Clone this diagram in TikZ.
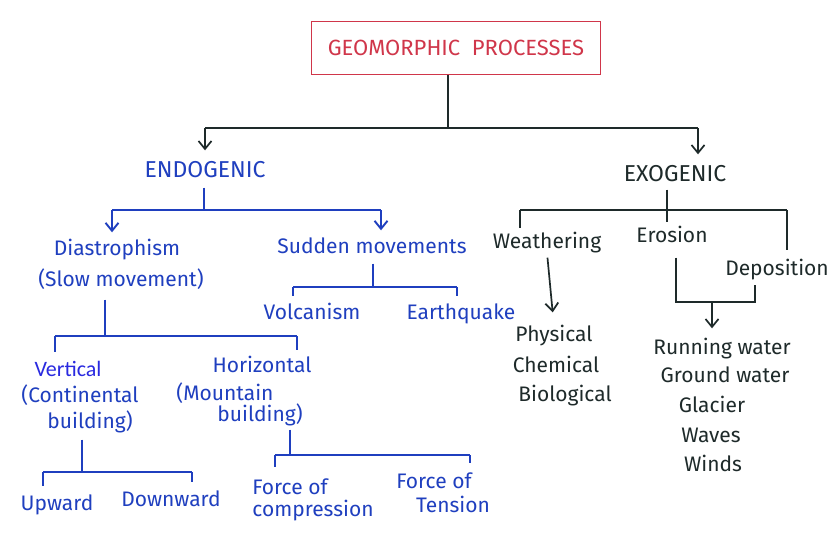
\documentclass[tikz,border=0pt]{standalone}
\usepackage{fontspec}
\setmainfont{Fira Sans}
\newfontfamily\typedfont{Carlito}
\usetikzlibrary{arrows.meta}
\definecolor{inkblue}{HTML}{1F3FBF}
\definecolor{inkdark}{HTML}{1E2A2A}
\definecolor{inkred}{HTML}{D0364A}
\definecolor{vblue}{HTML}{2A2AE0}
\begin{document}
\begin{tikzpicture}[x=1pt,y=-1pt,
 lbl/.style={font=\fontsize{21}{23}\selectfont, inner sep=0pt, align=center, text height=15pt, text depth=4pt},
 capsl/.style={lbl,font=\fontsize{23}{25}\selectfont},
 bl/.style={lbl,text=inkblue},
 dk/.style={lbl,text=inkdark},
 bline/.style={draw=inkblue,line width=1.9pt},
 dline/.style={draw=inkdark,line width=1.7pt},
 tip/.style={-{Straight Barb[length=8pt,width=13pt]}},
]
\useasboundingbox[fill=white] (0,0) rectangle (837,552);

% title
\node[draw=inkred, line width=1.6pt, minimum width=289pt, minimum height=53pt, text=inkred,
      font=\fontsize{22}{24}\selectfont, inner sep=0pt] (title) at (456,48) {GEOMORPHIC\ \ PROCESSES};

% endogenic branch
\node[bl,capsl] (endo) at (205,172) {ENDOGENIC};
\node[bl] (diast) at (117,250) {Diastrophism};
\node[bl] (slow) at (121,281) {(Slow movement)};
\node[bl] (sudden) at (372,248) {Sudden movements};
\node[bl] (volc) at (312,314) {Volcanism};
\node[bl] (earth) at (461,314) {Earthquake};
\node[lbl, text=vblue, font=\typedfont\fontsize{22}{24}\selectfont] (vert) at (68,371) {Vertical};
\node[bl] (cont) at (80,397) {(Continental};
\node[bl] (build1) at (90,423) {building)};
\node[bl] (horiz) at (262,367) {Horizontal};
\node[bl] (mount) at (225,395) {(Mountain};
\node[bl] (build2) at (260,416) {building)};
\node[bl] (up) at (57,505) {Upward};
\node[bl] (down) at (171,501) {Downward};
\node[bl] (fc1) at (290,489) {Force of};
\node[bl] (fc2) at (313,511) {compression};
\node[bl] (ft1) at (434,483) {Force of};
\node[bl] (ft2) at (453,507) {Tension};

% exogenic branch
\node[dk,capsl] (exo) at (675,176) {EXOGENIC};
\node[dk] (weath) at (547,243) {Weathering};
\node[dk] (eros) at (672,237) {Erosion};
\node[dk] (depo) at (777,270) {Deposition};
\node[dk] (phys) at (554,336) {Physical};
\node[dk] (chem) at (556,367) {Chemical};
\node[dk] (bio) at (565,396) {Biological};
\node[dk] (run) at (722,349) {Running water};
\node[dk] (ground) at (725,377) {Ground water};
\node[dk] (glac) at (712,407) {Glacier};
\node[dk] (waves) at (711,437) {Waves};
\node[dk] (winds) at (713,466) {Winds};

% junction coordinates
\coordinate (tb) at (448,128);
\coordinate (tbL) at (205,128);
\coordinate (tbR) at (698,128);
\coordinate (eb) at (204,210);
\coordinate (ebL) at (112,210);
\coordinate (ebR) at (381,210);
\coordinate (sb) at (373,287);
\coordinate (sbL) at (293,287);
\coordinate (sbR) at (457,287);
\coordinate (db) at (105,336);
\coordinate (dbL) at (55,336);
\coordinate (dbR) at (297,336);
\coordinate (vb) at (82,472);
\coordinate (vbL) at (43,472);
\coordinate (vbR) at (192,472);
\coordinate (hb) at (290,455);
\coordinate (hbL) at (275,455);
\coordinate (hbR) at (470,455);
\coordinate (xb) at (667,210);
\coordinate (xbL) at (520,210);
\coordinate (xbR) at (787,210);
\coordinate (rb1) at (676,302);
\coordinate (rb2) at (755,302);
\coordinate (rbM) at (712,302);

% top connectors
\draw[dline] (title.south -| tb) -- (tb);
\draw[dline] (tbL) -- (tbR);
\draw[dline,tip,shorten >=12pt] (tbL) -- (tbL |- endo.north);
\draw[dline,tip,shorten >=12pt] (tbR) -- (tbR |- exo.north);

% endogenic connectors
\draw[bline,shorten <=6pt] (endo.south -| eb) -- (eb);
\draw[bline] (ebL) -- (ebR);
\draw[bline,tip,shorten >=8pt] (ebL) -- (ebL |- diast.north);
\draw[bline,tip,shorten >=8pt] (ebR) -- (ebR |- sudden.north);

\draw[bline,shorten <=6pt] (sudden.south -| sb) -- (sb);
\draw[bline] (sbL) -- (sbR);
\draw[bline,shorten >=8pt] (sbL) -- (sbL |- volc.north);
\draw[bline,shorten >=8pt] (sbR) -- (sbR |- earth.north);

\draw[bline,shorten <=9pt] (slow.south -| db) -- (db);
\draw[bline] (dbL) -- (dbR);
\draw[bline,shorten >=9pt] (dbL) -- (dbL |- vert.north);
\draw[bline,shorten >=7pt] (dbR) -- (dbR |- horiz.north);

\draw[bline,shorten <=7pt] (build1.south -| vb) -- (vb);
\draw[bline] (vbL) -- (vbR);
\draw[bline,shorten >=9pt] (vbL) -- (vbL |- up.north);
\draw[bline,shorten >=9pt] (vbR) -- (vbR |- down.north);

\draw[bline,shorten <=4pt] (build2.south -| hb) -- (hb);
\draw[bline] (hbL) -- (hbR);
\draw[bline,shorten >=12pt] (hbL) -- (hbL |- fc1.north);
\draw[bline,shorten >=10pt] (hbR) -- (hbR |- ft1.north);

% exogenic connectors
\draw[dline,shorten <=4pt] (exo.south -| xb) -- (xb);
\draw[dline] (xbL) -- (xbR);
\draw[dline,shorten >=5pt] (xbL) -- (xbL |- weath.north);
\draw[dline,shorten >=5pt] (xb) -- (xb |- eros.north);
\draw[dline,shorten >=10pt] (xbR) -- (xbR |- depo.north);

\draw[dline,tip,shorten <=5pt,shorten >=14pt] (weath.south) -- (phys.north);

\draw[dline,shorten <=11pt,shorten >=5pt] (eros.south -| rb1) -- (rb1) -- (rb2) -- (rb2 |- depo.south);
\draw[dline,tip,shorten >=11pt] (rbM) -- (rbM |- run.north);
\end{tikzpicture}
\end{document}
